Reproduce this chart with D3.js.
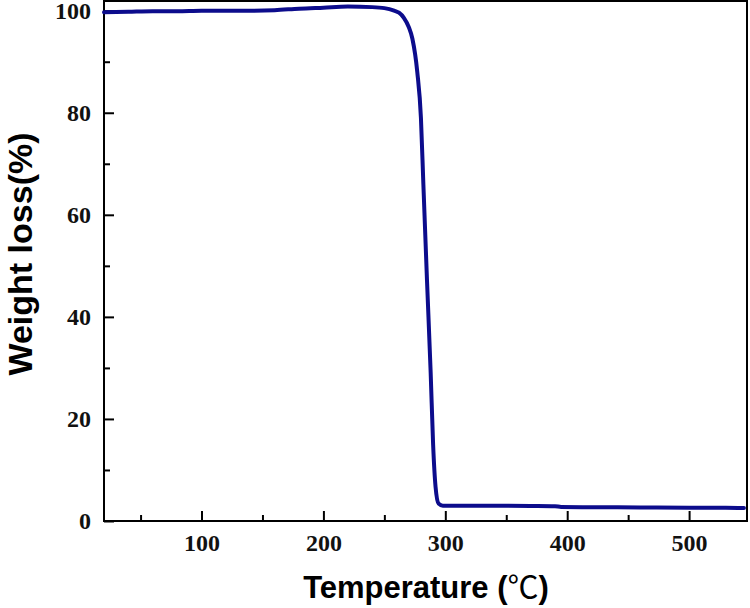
<!DOCTYPE html>
<html>
<head>
<meta charset="utf-8">
<script src="https://cdn.jsdelivr.net/npm/d3@7"></script>
<style>
  body { margin: 0; background: #fff; }
  .axis text { font-family: "Liberation Serif", "Times New Roman", serif; font-weight: bold; font-size: 24px; fill: #111; }
  .axis path, .axis line { stroke: #000; stroke-width: 2; }
  .title { font-family: "Liberation Sans", Arial, sans-serif; font-weight: bold; fill: #000; }
</style>
</head>
<body>
<svg id="chart"></svg>
<script>
// TGA curve
const temperature = [20, 40, 60, 80, 100, 120, 140, 160, 180, 200, 220, 240, 250, 258, 262, 266, 270, 273, 277, 280, 282, 285, 288, 290, 292, 294.5, 298, 310, 340, 370, 390, 395, 420, 460, 500, 530, 545];
const weight = [99.7, 99.8, 99.9, 99.9, 100.0, 100.0, 100.0, 100.1, 100.4, 100.6, 100.8, 100.7, 100.5, 100.0, 99.6, 98.6, 96.8, 94.5, 88, 79, 66, 47, 29, 15, 6.7, 3.4, 3.0, 3.0, 3.0, 2.95, 2.9, 2.75, 2.7, 2.65, 2.6, 2.6, 2.55];
const xTicks = [100, 200, 300, 400, 500];
const xMinor = [50, 150, 250, 350, 450];
const yTicks = [0, 20, 40, 60, 80, 100];
const yMinor = [10, 30, 50, 70, 90];

const width = 750, height = 608;
const plotLeft = 104, plotRight = 747, plotTop = 1, plotBottom = 521;

const svg = d3.select("#chart").attr("width", width).attr("height", height);

const x = d3.scaleLinear().domain([20, 547.5]).range([plotLeft, plotRight]);
const y = d3.scaleLinear().domain([0, 101.9]).range([plotBottom, plotTop]);

// frame
svg.append("rect")
   .attr("x", plotLeft).attr("y", plotTop)
   .attr("width", plotRight - plotLeft).attr("height", plotBottom - plotTop)
   .attr("fill", "none").attr("stroke", "#000").attr("stroke-width", 2);

svg.append("g").attr("class", "axis")
   .attr("transform", `translate(0,${plotBottom})`)
   .call(d3.axisBottom(x).tickValues(xTicks).tickSize(-10).tickPadding(13).tickFormat(d3.format("d")))
   .call(g => g.select(".domain").remove());
svg.append("g").attr("class", "axis")
   .attr("transform", `translate(0,${plotBottom})`)
   .call(d3.axisBottom(x).tickValues(xMinor).tickSize(-6).tickFormat(""))
   .call(g => g.select(".domain").remove());

svg.append("g").attr("class", "axis")
   .attr("transform", `translate(${plotLeft},0)`)
   .call(d3.axisLeft(y).tickValues(yTicks).tickSize(-10).tickPadding(13).tickFormat(d3.format("d")))
   .call(g => g.select(".domain").remove());
svg.append("g").attr("class", "axis")
   .attr("transform", `translate(${plotLeft},0)`)
   .call(d3.axisLeft(y).tickValues(yMinor).tickSize(-6).tickFormat(""))
   .call(g => g.select(".domain").remove());

const data = temperature.map((t, i) => [t, weight[i]]);
svg.append("path")
   .datum(data)
   .attr("fill", "none")
   .attr("stroke", "#0c0c8c")
   .attr("stroke-width", 4)
   .attr("stroke-linejoin", "round")
   .attr("stroke-linecap", "round")
   .attr("d", d3.line().x(d => x(d[0])).y(d => y(d[1])).curve(d3.curveMonotoneX));

const xTitle = svg.append("text").attr("class", "title")
   .attr("x", 426).attr("y", 598)
   .attr("font-size", 31)
   .attr("text-anchor", "middle");
xTitle.append("tspan").text("Temperature (");
xTitle.append("tspan").attr("font-family", "Noto Sans CJK SC").attr("font-weight", "normal").text("℃");
xTitle.append("tspan").text(")");

svg.append("text").attr("class", "title")
   .attr("font-size", 34)
   .attr("transform", "translate(32,254) rotate(-90)")
   .attr("text-anchor", "middle")
   .text("Weight loss(%)");
</script>
</body>
</html>
